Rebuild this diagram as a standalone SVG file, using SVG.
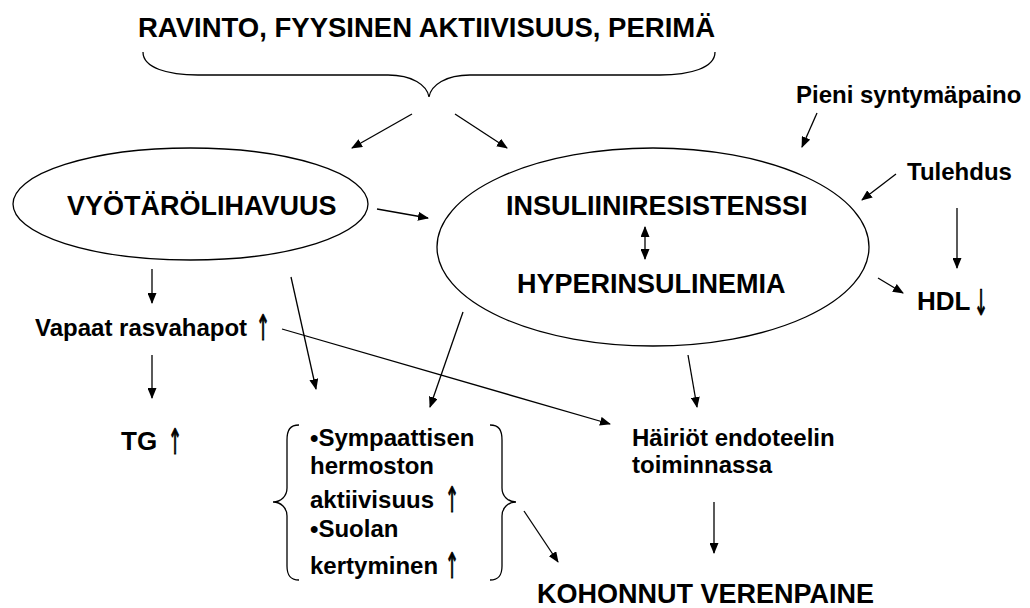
<svg xmlns="http://www.w3.org/2000/svg" width="1030" height="608" viewBox="0 0 1030 608">
<defs>
<style>
text{font-family:"Liberation Sans",Arial,sans-serif;font-weight:bold;fill:#000}
.big{font-size:27px}
.mid{font-size:24px}
.arw{font-family:"DejaVu Sans",sans-serif;font-weight:normal;fill:#000;stroke:#000;stroke-width:0.85;font-size:26px;text-anchor:middle}
.ln{fill:none;stroke:#000;stroke-width:1.3}
.ar{fill:none;stroke:#000;stroke-width:1.3;marker-end:url(#ah)}
.ell{fill:#fff;stroke:#000;stroke-width:1.3}
</style>
<marker id="ah" markerUnits="userSpaceOnUse" markerWidth="11" markerHeight="9" refX="10" refY="4.5" orient="auto-start-reverse">
<path d="M0,0 L11,4.5 L0,9 z" fill="#000"/>
</marker>
</defs>
<rect width="1030" height="608" fill="#fff"/>

<g id="title">
<text x="138" y="37" style="font-size:27.5px">RAVINTO, FYYSINEN AKTIIVISUUS, PERIMÄ</text>
<path class="ln" d="M143 52 C143 68 168 75 198 75 L388 75 C412 75 427 85 429 97 C431 85 446 75 470 75 L660 75 C690 75 715 68 715 52"/>
</g>

<g id="vyotaro">
<ellipse class="ell" cx="190.5" cy="204" rx="177.5" ry="56"/>
<text class="big" x="67" y="215">VYÖTÄRÖLIHAVUUS</text>
</g>

<g id="insuliini">
<ellipse class="ell" cx="653" cy="247" rx="216" ry="99"/>
<text class="big" x="506" y="215">INSULIINIRESISTENSSI</text>
<text class="big" x="517" y="293">HYPERINSULINEMIA</text>
</g>

<g id="pieni"><text class="mid" x="796" y="103">Pieni syntymäpaino</text></g>
<g id="tulehdus"><text class="mid" x="907" y="180">Tulehdus</text></g>
<g id="hdl"><text x="917" y="310" style="font-size:26px">HDL</text><text class="arw" transform="translate(981,315) scale(0.65,1.35)">↓</text></g>
<g id="vapaat"><text class="mid" x="35" y="336">Vapaat rasvahapot</text><text class="arw" transform="translate(263,340) scale(0.65,1.35)">↑</text></g>
<g id="tg"><text x="121" y="450" style="font-size:26px">TG</text><text class="arw" transform="translate(175,454) scale(0.65,1.35)">↑</text></g>

<g id="sympaattisen">
<path class="ln" d="M299 425 C290 425 287 430 287 440 L287 488 C287 496 281 502 273 502 C281 502 287 508 287 516 L287 566 C287 575 290 580 299 580"/>
<path class="ln" d="M490 425 C499 425 502 430 502 440 L502 488 C502 496 508 502 516 502 C508 502 502 508 502 516 L502 566 C502 575 499 580 490 580"/>
<text class="mid" x="310" y="446">•Sympaattisen</text>
<text class="mid" x="310" y="474">hermoston</text>
<text class="mid" x="310" y="508">aktiivisuus</text><text class="arw" transform="translate(452,512) scale(0.65,1.35)">↑</text>
<text class="mid" x="310" y="537">•Suolan</text>
<text class="mid" x="310" y="574">kertyminen</text><text class="arw" transform="translate(452,578) scale(0.65,1.35)">↑</text>
</g>

<g id="hairiot">
<text class="mid" x="632" y="446">Häiriöt endoteelin</text>
<text class="mid" x="632" y="473">toiminnassa</text>
</g>

<g id="kohonnut"><text class="big" x="537" y="603">KOHONNUT VERENPAINE</text></g>

<g id="connectors">
<line class="ar" x1="412" y1="114" x2="352" y2="148"/>
<line class="ar" x1="455" y1="114" x2="507" y2="148"/>
<line class="ar" x1="377" y1="209" x2="428" y2="218"/>
<line class="ar" x1="817" y1="113" x2="802" y2="147"/>
<line class="ar" x1="896" y1="174" x2="862" y2="200"/>
<line class="ar" x1="957" y1="208" x2="957" y2="268"/>
<line class="ar" x1="878" y1="278" x2="903" y2="293"/>
<line class="ar" x1="645" y1="227" x2="645" y2="259" style="marker-start:url(#ah)"/>
<line class="ar" x1="152" y1="269" x2="152" y2="303"/>
<line class="ar" x1="152" y1="355" x2="152" y2="398"/>
<line class="ar" x1="291" y1="277" x2="316" y2="389"/>
<line class="ar" x1="463" y1="312" x2="430" y2="407"/>
<line class="ar" x1="688" y1="355" x2="697" y2="407"/>
<line class="ar" x1="282" y1="329" x2="610" y2="424"/>
<line class="ar" x1="524" y1="511" x2="558" y2="562"/>
<line class="ar" x1="714" y1="502" x2="714" y2="553"/>
</g>
</svg>
